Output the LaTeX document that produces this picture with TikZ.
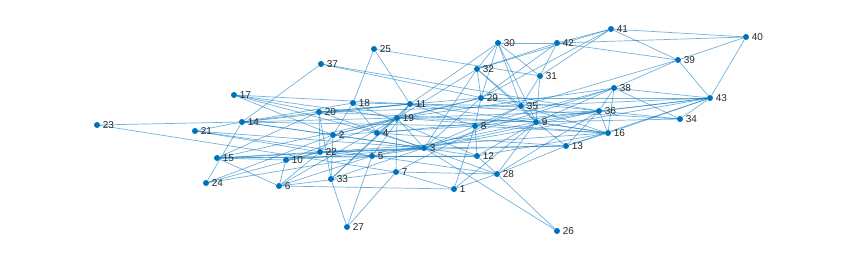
\documentclass[tikz,border=0pt]{standalone}
\usepackage{fontspec}
\setmainfont{Liberation Sans}
\definecolor{mblue}{RGB}{0,114,189}
\definecolor{txt}{RGB}{38,38,38}
\pgfdeclarelayer{bg}
\pgfsetlayers{bg,main}
\begin{document}
\begin{tikzpicture}[x=1pt,y=-1pt,
  v/.style={circle,fill=mblue,inner sep=0pt,minimum size=6pt},
  lab/.style={font=\fontsize{10}{12}\selectfont,text=txt,inner sep=0.5pt,label distance=2pt},
  e/.style={draw=mblue,draw opacity=0.55,line width=0.7pt}]
\useasboundingbox (0,0) rectangle (846,259);
\foreach \n/\x/\y in {1/454/189,2/333/135,3/424/148,4/377/133,5/372/156,6/279/186,7/396/172,8/475/126,9/536/122,10/286/160,11/410/104,12/477/156,13/566/146,14/242/122,15/217/158,16/608/133,17/234/95,18/353/103,19/397/118,20/319/112,21/195/131,22/320/152,23/97/125,24/206/183,25/374/49,26/557/231,27/347/227,28/497/174,29/481/98,30/498/43,31/540/76,32/477/69,33/331/179,34/680/119,35/521/106,36/599/111,37/321/64,38/614/88,39/678/60,40/746/37,41/611/29,42/557/43,43/710/98}
  {\node[v,label={[lab]right:\n}] (n\n) at (\x,\y) {};}
\begin{pgfonlayer}{bg}
\foreach \a/\b in {23/14,23/7,21/14,21/3,21/5,21/22,17/20,17/19,17/11,17/4,17/2,
 14/20,14/18,14/19,14/11,14/3,14/24,14/37,14/2,14/8,
 15/10,15/22,15/5,15/3,15/6,15/20,15/19,15/12,24/22,24/2,24/5,
 10/6,10/19,10/3,10/22,6/1,6/22,6/19,6/5,6/7,
 20/22,20/33,20/9,20/3,20/35,20/11,20/29,18/25,18/4,18/35,18/2,18/12,
 2/22,2/33,2/3,2/19,2/29,2/8,22/16,22/13,22/3,22/5,33/27,33/19,33/3,33/11,
 27/5,27/7,5/3,5/11,5/28,5/9,5/12,4/19,4/3,4/13,4/36,7/19,7/1,7/35,7/28,
 19/11,19/36,19/38,19/32,19/3,19/9,19/16,19/29,11/25,11/30,11/34,11/8,11/16,
 25/31,37/36,37/35,3/8,3/13,3/29,3/32,3/38,3/43,3/28,3/26,3/12,3/36,
 12/8,12/9,12/16,1/8,1/9,1/28,28/9,28/13,28/26,28/36,28/12,
 8/35,8/16,8/38,8/43,8/29,29/30,29/32,29/42,29/36,29/43,29/41,
 32/30,32/35,32/41,32/42,32/9,30/42,30/35,30/9,30/31,31/42,31/35,31/9,31/41,
 42/41,42/40,42/39,41/40,41/39,40/39,40/43,39/38,39/43,39/35,
 38/36,38/16,38/34,38/43,38/9,36/16,36/34,36/9,36/43,36/13,
 35/9,35/43,35/16,9/13,9/16,9/34,13/16,13/43,16/43,34/43}
  {\draw[e] (n\a) -- (n\b);}
\end{pgfonlayer}
\end{tikzpicture}
\end{document}
